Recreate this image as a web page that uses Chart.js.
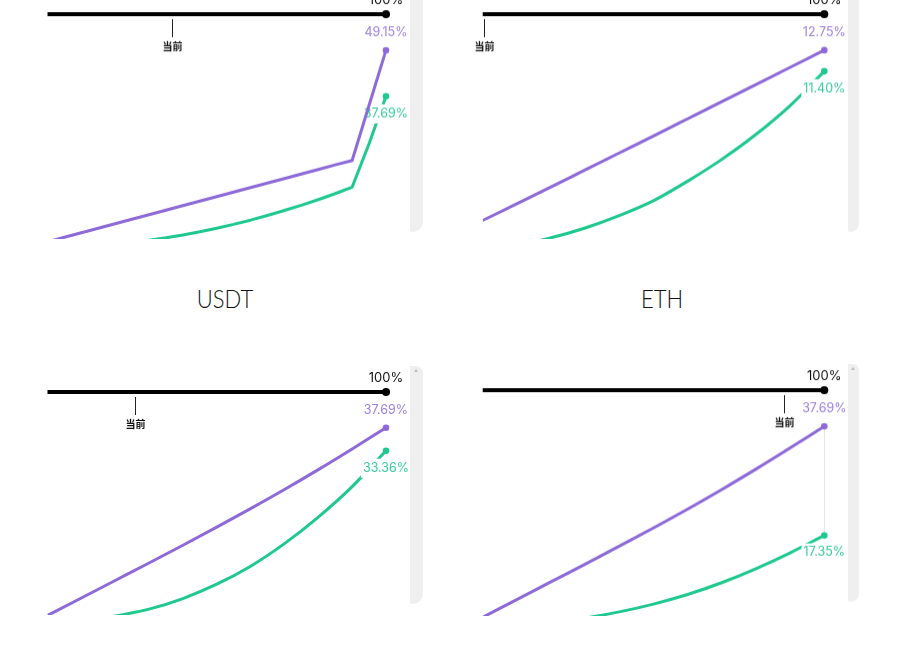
<!DOCTYPE html>
<html><head><meta charset="utf-8">
<script src="https://cdn.jsdelivr.net/npm/chart.js@4.4.1/dist/chart.umd.min.js"></script>
<style>
html,body{margin:0;padding:0;background:#fff;width:907px;height:664px;overflow:hidden;position:relative;}
canvas{position:absolute;}
.band{position:absolute;background:#efefef;}
.caret{position:absolute;width:0;height:0;border-left:2px solid transparent;border-right:2px solid transparent;border-bottom:3px solid #bdbdbd;}
.title{position:absolute;font-family:Lato,'Noto Sans',sans-serif;font-weight:300;font-size:25px;color:#111;transform:translate(-50%,-50%) scaleX(0.88);white-space:nowrap;line-height:1;}
</style></head><body>
<canvas id="c1"></canvas><canvas id="c2"></canvas><canvas id="c3"></canvas><canvas id="c4"></canvas>
<div class="band" style="left:410px;top:0;width:13px;height:232px;border-radius:0 0 12px 3px;"></div>
<div class="band" style="left:848px;top:0;width:11px;height:232px;border-radius:0 0 12px 3px;"></div>
<div class="band" style="left:410px;top:366px;width:13px;height:238px;border-radius:0 8px 12px 3px;"></div>
<div class="band" style="left:848px;top:364px;width:11px;height:238px;border-radius:0 8px 12px 3px;"></div>
<div class="caret" style="left:414px;top:369px;"></div>
<div class="caret" style="left:851px;top:367px;"></div>
<div class="title" id="t1" style="left:225px;top:298px;"></div>
<div class="title" id="t2" style="left:662px;top:298px;"></div>
<script>
// ---- data (utilization %, rates %) ----
const usdtUtilization = [0, 5, 10, 15, 20, 25, 30, 35, 40, 45, 50, 55, 60, 65, 70, 75, 80, 85, 90, 95, 100];
const usdtBorrow   = [1.5, 2.63, 3.75, 4.88, 6.0, 7.13, 8.25, 9.38, 10.5, 11.63, 12.75, 13.88, 15.0, 16.13, 17.25, 18.38, 19.5, 20.63, 21.75, 35.45, 49.15];
const usdtSupply   = [0, 0.1, 0.3, 0.55, 0.9, 1.35, 1.9, 2.5, 3.2, 4.0, 4.9, 5.85, 6.9, 8.05, 9.3, 10.6, 12.0, 13.5, 15.1, 25.9, 37.69];
const utilization  = [0, 10, 20, 30, 40, 50, 60, 70, 80, 90, 100];
const ethBorrow    = [1.83, 2.9, 3.98, 5.07, 6.16, 7.25, 8.35, 9.45, 10.55, 11.65, 12.75];
const ethSupply    = [0, 0.25, 0.72, 1.35, 2.15, 3.1, 4.35, 5.75, 7.35, 9.2, 11.40];
const thirdBorrow  = [2.3, 5.6, 8.9, 12.2, 15.55, 18.95, 22.45, 26.05, 29.8, 33.7, 37.69];
const thirdSupply  = [0, 0.9, 2.2, 3.5, 5.5, 8.2, 11.6, 15.85, 20.85, 26.6, 33.36];
const fourthBorrow = [2.1, 5.4, 8.7, 12.0, 15.35, 18.75, 22.25, 25.9, 29.7, 33.65, 37.69];
const fourthSupply = [0, 0.4, 1.05, 1.95, 3.1, 4.55, 6.35, 8.55, 11.15, 14.1, 17.35];
const currentUtil  = [36.9, 0.3, 25.8, 88.3];
const maxUtil = 100;
const titles = ['USDT', 'ETH'];
const currentLabel = '当前';

const PURPLE = '#8d6ad8', PURPLE_TEXT = '#9b7fdf';
const GREEN = '#1fc98e', GREEN_TEXT = '#36cd99';
const LABEL_FONT = '400 12.5px Inter, "Noto Sans", sans-serif';

document.getElementById('t1').textContent = titles[0];
document.getElementById('t2').textContent = titles[1];

const overlay = {
  id: 'overlay',
  beforeDatasetsDraw(chart, args, o) {
    if (!o.guide) return;
    const ctx = chart.ctx;
    const b = chart.getDatasetMeta(1).data, s = chart.getDatasetMeta(2).data;
    const pb = b[b.length - 1], ps = s[s.length - 1];
    ctx.save();
    ctx.strokeStyle = '#e6e6e6'; ctx.lineWidth = 1;
    ctx.beginPath();
    const x = Math.round(pb.x) + 0.5;
    ctx.moveTo(x, pb.y); ctx.lineTo(x, ps.y); ctx.stroke();
    ctx.restore();
  },
  afterDatasetDraw(chart, args) {
    if (args.index !== 2) return;
    const ctx = chart.ctx;
    const pts = args.meta.data, i = pts.length - 1, p = pts[i];
    const txt = chart.data.datasets[2].data[i].y.toFixed(2) + '%';
    ctx.save();
    ctx.font = LABEL_FONT;
    const w = ctx.measureText(txt).width;
    const cy = p.y + 17;
    ctx.fillStyle = '#fff';
    ctx.fillRect(p.x - w / 2 - 2, cy - 9, w + 4, 19);
    ctx.fillStyle = GREEN_TEXT; ctx.textAlign = 'center'; ctx.textBaseline = 'middle';
    ctx.fillText(txt, p.x, cy);
    ctx.restore();
  },
  afterDatasetsDraw(chart, args, o) {
    const ctx = chart.ctx;
    const bar = chart.getDatasetMeta(0).data, e = bar[bar.length - 1];
    const b = chart.getDatasetMeta(1).data, pb = b[b.length - 1];
    const bi = b.length - 1;
    ctx.save();
    ctx.textAlign = 'center'; ctx.textBaseline = 'middle';
    ctx.font = '400 13px Inter, "Noto Sans", sans-serif';
    ctx.fillStyle = '#111';
    ctx.fillText(maxUtil + '%', e.x, e.y - 14);
    ctx.font = LABEL_FONT;
    ctx.fillStyle = PURPLE_TEXT;
    ctx.fillText(chart.data.datasets[1].data[bi].y.toFixed(2) + '%', pb.x, pb.y - 18);
    // current utilization marker
    const cx = Math.round(chart.scales.x.getPixelForValue(o.current)) + 0.5;
    const top = chart.chartArea.top;
    ctx.strokeStyle = '#222'; ctx.lineWidth = 1;
    ctx.beginPath(); ctx.moveTo(cx, top + 5); ctx.lineTo(cx, top + 23); ctx.stroke();
    ctx.font = '700 10px "Noto Sans CJK SC", sans-serif';
    ctx.fillStyle = '#111';
    ctx.fillText(currentLabel, cx, top + 32);
    ctx.restore();
  }
};

function pts(us, arr) { return us.map((u, i) => ({ x: u, y: arr[i] })); }
const endOnly = (r) => (c) => c.dataIndex === c.dataset.data.length - 1 ? r : 0;

function makeChart(id, g, us, borrow, supply, current, yMin, yMax, smooth, guide) {
  const cv = document.getElementById(id);
  const cl = g.left, cw = g.width;
  const ct = g.top - 42, ch = g.bottom + 4 - ct;
  cv.width = cw; cv.height = ch;
  cv.style.left = cl + 'px'; cv.style.top = ct + 'px';
  cv.style.width = cw + 'px'; cv.style.height = ch + 'px';
  const lineOpts = (color, data) => ({
    data: pts(us, data), borderColor: color, backgroundColor: color, borderWidth: 3,
    pointRadius: endOnly(3.3), pointBackgroundColor: color, pointBorderWidth: 0, pointHoverRadius: 0,
    cubicInterpolationMode: smooth ? 'monotone' : 'default', tension: 0,
    borderJoinStyle: 'round', fill: false,
    clip: { left: 0, top: 40, right: 10, bottom: 0 }, yAxisID: 'y'
  });
  return new Chart(cv, {
    type: 'line',
    data: {
      datasets: [
        { data: [{ x: 0, y: maxUtil }, { x: maxUtil, y: maxUtil }], borderColor: '#000', backgroundColor: '#000',
          borderWidth: 4, pointRadius: endOnly(4), pointBorderWidth: 0, pointHoverRadius: 0,
          yAxisID: 'yBar', clip: false },
        lineOpts(PURPLE, borrow),
        lineOpts(GREEN, supply)
      ]
    },
    options: {
      responsive: false, animation: false, devicePixelRatio: 1,
      events: [],
      layout: { padding: { left: g.xl - cl, right: cl + cw - g.xr, top: 42, bottom: 4 } },
      scales: {
        x: { type: 'linear', min: 0, max: maxUtil, display: false },
        y: { type: 'linear', min: yMin, max: yMax, display: false },
        yBar: { type: 'linear', min: 0, max: maxUtil, display: false }
      },
      plugins: { legend: { display: false }, tooltip: { enabled: false }, overlay: { current, guide } }
    },
    plugins: [overlay]
  });
}

makeChart('c1', { left: 0, width: 440, top: 14, bottom: 238.5, xl: 47.5, xr: 386 },
  usdtUtilization, usdtBorrow, usdtSupply, currentUtil[0], 2.2, 58.12, false, false);
makeChart('c2', { left: 440, width: 440, top: 14, bottom: 238.5, xl: 482.7, xr: 824.3 },
  utilization, ethBorrow, ethSupply, currentUtil[1], 0.64, 15.06, true, false);
makeChart('c3', { left: 0, width: 440, top: 392.3, bottom: 615.5, xl: 47.5, xr: 386 },
  utilization, thirdBorrow, thirdSupply, currentUtil[2], 2.4, 44.43, true, false);
makeChart('c4', { left: 440, width: 440, top: 390, bottom: 615.5, xl: 482.7, xr: 824.3 },
  utilization, fourthBorrow, fourthSupply, currentUtil[3], 2.33, 44.41, true, true);
</script>
</body></html>
